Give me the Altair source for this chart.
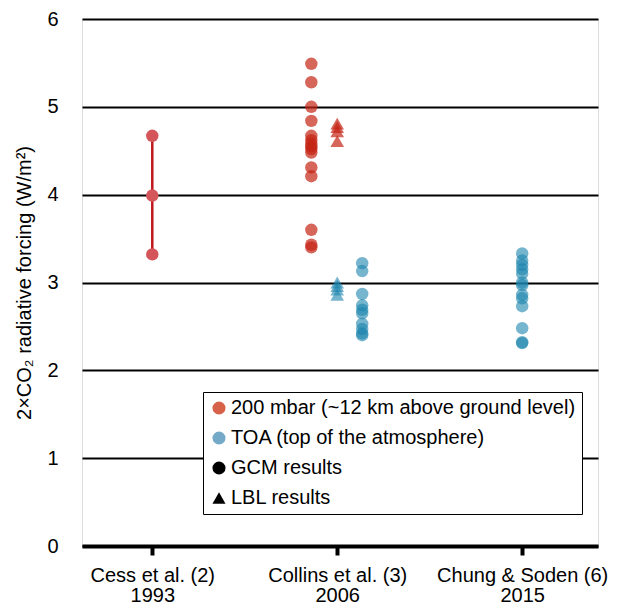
import altair as alt
import pandas as pd

# ---- data ----
studies = ["Cess et al. (2)", "Collins et al. (3)", "Chung & Soden (6)"]
years = ["1993", "2006", "2015"]

cess_200_gcm = [4.67, 3.99, 3.32]
collins_200_gcm = [5.49, 5.28, 5.00, 4.84, 4.67, 4.62, 4.58, 4.55, 4.52, 4.48,
                   4.31, 4.21, 3.60, 3.43, 3.40]
collins_200_lbl = [4.81, 4.77, 4.72, 4.61]
collins_toa_lbl = [3.00, 2.96, 2.92, 2.86]
collins_toa_gcm = [3.22, 3.13, 2.87, 2.74, 2.69, 2.65, 2.53, 2.47, 2.42, 2.40]
chung_toa_gcm = [3.33, 3.25, 3.20, 3.15, 3.10, 3.00, 2.97, 2.86, 2.82, 2.73,
                 2.48, 2.32, 2.31]

legend_entries = ["200 mbar (~12 km above ground level)", "TOA (top of the atmosphere)",
                  "GCM results", "LBL results"]

FONT = "Liberation Sans"
RED = "#C42414"
BLUE = "#1A84AE"


def frame(vals, study_idx, shift):
    return pd.DataFrame({"x": [study_idx + 1 + shift] * len(vals), "y": vals})


cess_df = frame(cess_200_gcm, 0, 0.0)
red_gcm = frame(collins_200_gcm, 1, -0.14)
red_lbl = frame(collins_200_lbl, 1, 0.0)
blue_lbl = frame(collins_toa_lbl, 1, 0.0)
blue_gcm = pd.concat([frame(collins_toa_gcm, 1, 0.135), frame(chung_toa_gcm, 2, 0.0)])
cess_rule = pd.DataFrame({"x": [1], "y": [min(cess_200_gcm)], "y2": [max(cess_200_gcm)]})
# legend-only points, placed outside the x domain and clipped away
legend_df = pd.DataFrame({"entry": legend_entries, "x": [0.0] * 4, "y": [1] * 4})

xscale = alt.Scale(domain=[0.62, 3.41], nice=False, zero=False)
yscale = alt.Scale(domain=[0, 6], nice=False)

label_expr = ("datum.value == 1 ? ['" + studies[0] + "', '" + years[0] + "'] : "
              "datum.value == 2 ? ['" + studies[1] + "', '" + years[1] + "'] : "
              "['" + studies[2] + "', '" + years[2] + "']")

X = alt.X("x:Q", scale=xscale,
          axis=alt.Axis(values=[1, 2, 3], labelExpr=label_expr, title=None, grid=False,
                        domain=True, domainColor="black", domainWidth=4,
                        ticks=True, tickColor="black", tickWidth=4, tickSize=9,
                        labelFontSize=20, labelColor="black", labelPadding=10,
                        labelLineHeight=20, labelFont=FONT))
Y = alt.Y("y:Q", scale=yscale,
          axis=alt.Axis(values=[0, 1, 2, 3, 4, 5, 6], format="d",
                        title="2×CO₂ radiative forcing (W/m²)",
                        grid=True, gridColor="black", gridWidth=2, gridOpacity=1,
                        ticks=False, domain=False, labelPadding=24,
                        labelFontSize=20, labelColor="black", labelFont=FONT,
                        titleFontSize=20, titleFontWeight="normal", titleColor="black",
                        titleFont=FONT, titlePadding=12))

base_x = alt.X("x:Q", scale=xscale)
base_y = alt.Y("y:Q", scale=yscale)

axes_layer = alt.Chart(cess_rule).mark_point(opacity=0).encode(x=X, y=Y)

rule = alt.Chart(cess_rule).mark_rule(color="#C0171C", strokeWidth=2.5).encode(
    x=base_x, y=base_y, y2="y2:Q")

cess_pts = alt.Chart(cess_df).mark_circle(size=155, color="#D4555A", opacity=1).encode(
    x=base_x, y=base_y)
red_c = alt.Chart(red_gcm).mark_circle(size=155, color=RED, opacity=0.7).encode(x=base_x, y=base_y)
red_t = alt.Chart(red_lbl).mark_point(shape="triangle-up", filled=True, size=185, color=RED,
                                     opacity=0.7).encode(x=base_x, y=base_y)
blue_t = alt.Chart(blue_lbl).mark_point(shape="triangle-up", filled=True, size=185, color=BLUE,
                                       opacity=0.6).encode(x=base_x, y=base_y)
blue_c = alt.Chart(blue_gcm).mark_circle(size=155, color=BLUE, opacity=0.6).encode(x=base_x, y=base_y)

legend_layer = alt.Chart(legend_df).mark_point(filled=True, clip=True, opacity=1).encode(
    x=base_x, y=base_y,
    color=alt.Color("entry:N",
                    scale=alt.Scale(domain=legend_entries,
                                    range=["#D6624A", "#74AAC8", "black", "black"]),
                    legend=alt.Legend(title=None, orient="none", legendX=121, legendY=373,
                                      labelFontSize=20, labelFont=FONT, labelColor="black",
                                      labelLimit=500, symbolSize=170, symbolOpacity=1,
                                      symbolStrokeWidth=0,
                                      strokeColor="black", fillColor="white", padding=6,
                                      rowPadding=10, labelOffset=2)),
    shape=alt.Shape("entry:N",
                    scale=alt.Scale(domain=legend_entries,
                                    range=["circle", "circle", "circle", "triangle-up"]),
                    legend=alt.Legend(title=None, orient="none", legendX=121, legendY=373)),
)

chart = alt.layer(axes_layer, rule, cess_pts, red_c, red_t, blue_t, blue_c, legend_layer).properties(
    width=516, height=527,
    autosize=alt.AutoSizeParams(type="none"),
    padding={"left": 74, "top": 11, "right": 15, "bottom": 61},
).configure_view(stroke=None).configure(font=FONT)

chart.save("out.html", embed_options={"renderer": "svg", "actions": False})
